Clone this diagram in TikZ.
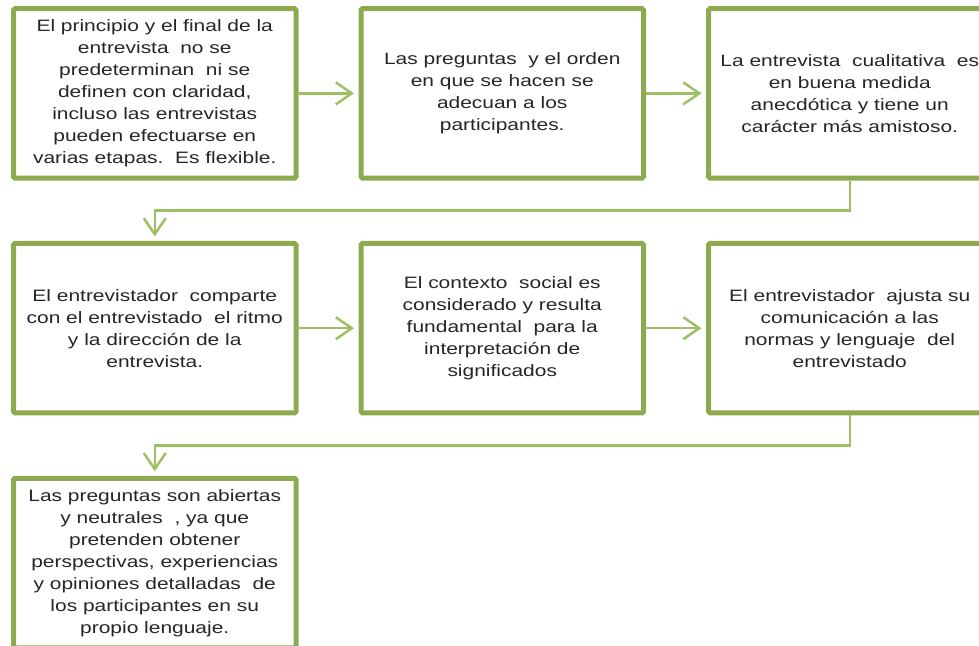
\documentclass[tikz,border=0pt]{standalone}
\usepackage{fontspec}
\setmainfont[FakeStretch=1.27]{Liberation Sans}
\usepackage{tikz}
\definecolor{boxgreen}{RGB}{142,170,80}
\definecolor{linkgreen}{RGB}{158,192,100}
\definecolor{textgray}{RGB}{38,38,38}
\usetikzlibrary{arrows.meta}

\begin{document}
\begin{tikzpicture}[x=1pt, y=-1pt, >={Straight Barb[length=16pt, width=22pt]},   %Pfeilspitzen
		box/.style={draw=boxgreen, line width=5pt, rounded corners=1.5pt, fill=white, minimum width=282.5pt, minimum height=169.5pt, inner sep=0pt, outer sep=0pt, align=center, text=textgray, font=\fontsize{16.5}{22}\selectfont},
		link/.style={draw=linkgreen, line width=2.5pt, ->, shorten <=2.5pt, shorten >=7pt}]
	\clip (0,0) rectangle (979,645);
	\node[box] (b1) at (154.75,93.35) {El principio y el final de la\\ entrevista\ \ no se\\ predeterminan\ \ ni se\\ definen con claridad,\\ incluso las entrevistas\\ pueden efectuarse en\\ varias etapas.\ \ Es flexible.};
	\node[box] (b2) at (502.25,93.35) {Las preguntas\ \ y el orden\\ en que se hacen se\\ adecuan a los\\ participantes.};
	\node[box] (b3) at (849.75,93.35) {La entrevista\ \ cualitativa\ \ es\\ en buena medida\\ anecdótica y tiene un\\ carácter más amistoso.};
	\node[box] (b4) at (154.75,328.2) {El entrevistador\ \ comparte\\ con el entrevistado\ \ el ritmo\\ y la dirección de la\\ entrevista.};
	\node[box] (b5) at (502.25,328.2) {El contexto\ \ social es\\ considerado y resulta\\ fundamental\ \ para la\\ interpretación de\\ significados};
	\node[box] (b6) at (849.75,328.2) {El entrevistador\ \ ajusta su\\ comunicación a las\\ normas y lenguaje\ \ del\\ entrevistado};
	\node[box] (b7) at (154.75,563) {Las preguntas son abiertas\\ y neutrales\ \ , ya que\\ pretenden obtener\\ perspectivas, experiencias\\ y opiniones detalladas\ \ de\\ los participantes en su\\ propio lenguaje.};
	\draw[link] (b1) -- (b2);
	\draw[link] (b2) -- (b3);
	\draw[link] (b3.south) -- ++(0,32.5) -| (b4.north);
	\draw[link] (b4) -- (b5);
	\draw[link] (b5) -- (b6);
	\draw[link] (b6.south) -- ++(0,32.5) -| (b7.north);
\end{tikzpicture}
\end{document}
